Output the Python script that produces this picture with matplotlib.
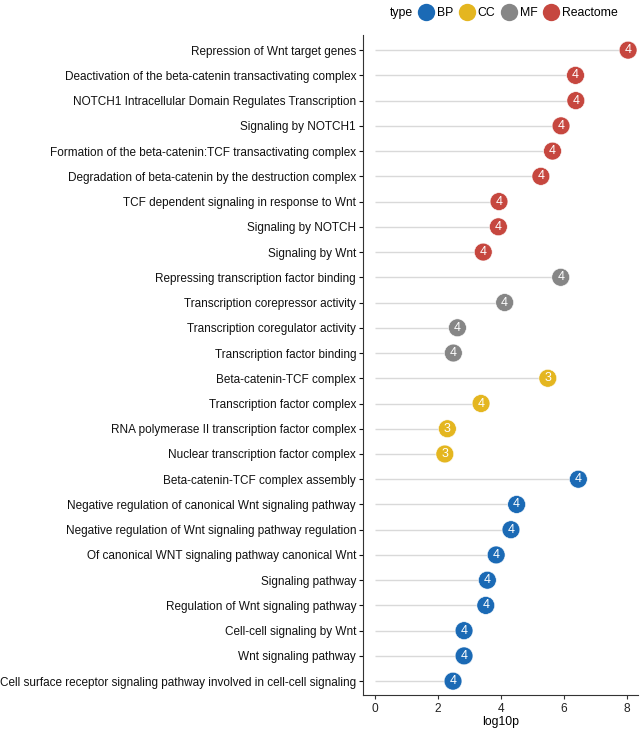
import matplotlib.pyplot as plt
from matplotlib.lines import Line2D

plt.rcParams['font.family'] = ['Liberation Sans', 'DejaVu Sans']

terms = [
    "Repression of Wnt target genes",
    "Deactivation of the beta-catenin transactivating complex",
    "NOTCH1 Intracellular Domain Regulates Transcription",
    "Signaling by NOTCH1",
    "Formation of the beta-catenin:TCF transactivating complex",
    "Degradation of beta-catenin by the destruction complex",
    "TCF dependent signaling in response to Wnt",
    "Signaling by NOTCH",
    "Signaling by Wnt",
    "Repressing transcription factor binding",
    "Transcription corepressor activity",
    "Transcription coregulator activity",
    "Transcription factor binding",
    "Beta-catenin-TCF complex",
    "Transcription factor complex",
    "RNA polymerase II transcription factor complex",
    "Nuclear transcription factor complex",
    "Beta-catenin-TCF complex assembly",
    "Negative regulation of canonical Wnt signaling pathway",
    "Negative regulation of Wnt signaling pathway regulation",
    "Of canonical WNT signaling pathway canonical Wnt",
    "Signaling pathway",
    "Regulation of Wnt signaling pathway",
    "Cell-cell signaling by Wnt",
    "Wnt signaling pathway",
    "Cell surface receptor signaling pathway involved in cell-cell signaling",
]
log10p = [8.04, 6.37, 6.38, 5.91, 5.64, 5.27, 3.94, 3.92, 3.44,
          5.90, 4.12, 2.62, 2.49,
          5.49, 3.37, 2.30, 2.22,
          6.46, 4.50, 4.32, 3.85, 3.57, 3.52, 2.83, 2.83, 2.48]
counts = [4, 4, 4, 4, 4, 4, 4, 4, 4,
          4, 4, 4, 4,
          3, 4, 3, 3,
          4, 4, 4, 4, 4, 4, 4, 4, 4]
types = ["Reactome"] * 9 + ["MF"] * 4 + ["CC"] * 4 + ["BP"] * 9

type_order = ["BP", "CC", "MF", "Reactome"]
colors = {"BP": "#1B6AB5", "CC": "#E4B620", "MF": "#868686", "Reactome": "#C6473F"}

fig = plt.figure(figsize=(6.43, 7.29), dpi=100)
ax = fig.add_axes([0.5645, 0.0466, 0.4275, 0.9054])

n = len(terms)
ypos = [n - 1 - i for i in range(n)]

ax.hlines(ypos, 0, log10p, color="#D9D9D9", linewidth=1.0, zorder=1)
ax.scatter(log10p, ypos, s=165, c=[colors[t] for t in types],
           edgecolors="white", linewidths=0.4, zorder=2)
for x, y, c in zip(log10p, ypos, counts):
    ax.text(x, y, str(c), color="white", fontsize=9, ha="center", va="center", zorder=3)

ax.set_yticks(ypos)
ax.set_yticklabels(terms, fontsize=8.45)
ax.set_ylim(-0.55, n - 0.4)
ax.set_xlim(-0.38, 8.35)
ax.set_xticks([0, 2, 4, 6, 8])
ax.tick_params(axis="x", labelsize=8.6, colors="#333333", length=3, pad=2.5)
ax.tick_params(axis="y", colors="#111111", length=3, pad=2)
ax.tick_params(axis="x", labelcolor="#222222")
ax.set_xlabel("log10p", fontsize=8.8, labelpad=1)
for s in ["top", "right"]:
    ax.spines[s].set_visible(False)
ax.spines["left"].set_color("#333333")
ax.spines["bottom"].set_color("#333333")

handles = [Line2D([], [], linestyle="none", marker="o", markersize=12.5,
                  markerfacecolor=colors[t], markeredgecolor="none") for t in type_order]
title_h = Line2D([], [], linestyle="none")
leg = fig.legend([title_h] + handles, ["type"] + type_order, loc="upper right",
                 bbox_to_anchor=(0.978, 1.005), ncol=5, frameon=False,
                 fontsize=8.8, handlelength=1.3, handletextpad=0.25,
                 columnspacing=0.45)

fig.savefig("out.png", dpi=100)
